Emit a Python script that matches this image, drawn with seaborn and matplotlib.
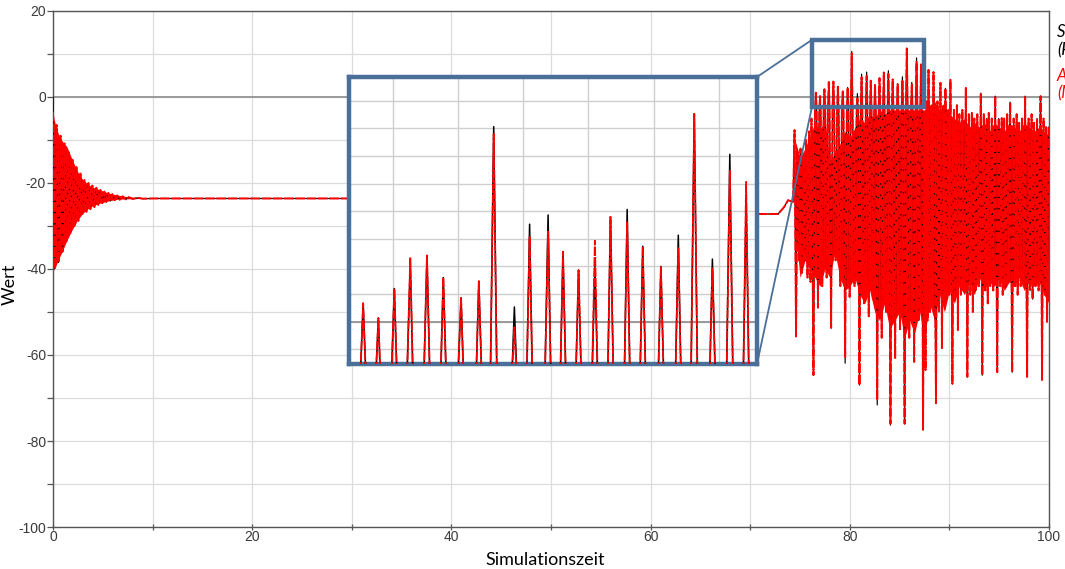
import numpy as np
import pandas as pd
import matplotlib
matplotlib.use("Agg")
import matplotlib.pyplot as plt
from matplotlib.patches import Rectangle, ConnectionPatch
from matplotlib.ticker import MultipleLocator
import seaborn as sns

# --- Einschwingvorgang: abwechselnde Maxima / Minima ---
t_decay = [0.0, 0.15, 0.35, 0.55, 0.75, 0.95, 1.15, 1.35, 1.55, 1.75, 1.95, 2.15,
           2.35, 2.55, 2.75, 2.95, 3.15, 3.35, 3.55, 3.75, 3.95, 4.15, 4.35, 4.55,
           4.75, 4.95, 5.15, 5.35, 5.55, 5.75, 5.95, 6.2, 6.45, 6.7, 7.0, 7.3, 7.6,
           8.0, 8.5, 9.0]
v_decay = [0.0, -40.0, -6.5, -38.5, -9.0, -36.0, -10.8, -33.5, -12.8, -31.5, -14.6, -30.0,
           -16.3, -28.8, -17.8, -27.2, -19.3, -26.7, -20.0, -26.1, -20.6, -25.6, -21.1, -25.1,
           -21.6, -24.7, -22.0, -24.4, -22.3, -24.2, -22.6, -24.0, -22.9, -23.9, -23.1, -23.8,
           -23.3, -23.7, -23.45, -23.65]

# Hüllkurven des Einschwingvorgangs
t_decay_env = [0.0, 0.1, 0.2, 0.4, 0.7, 1.0, 1.4, 2.0, 2.5, 3.0, 3.5, 4.0, 4.7, 5.5,
               6.4, 7.2, 8.0, 9.0]
decay_top = [-3.5, -5.0, -6.0, -7.7, -9.5, -10.5, -11.6, -15.0, -17.5, -19.3, -20.3,
             -21.0, -21.6, -22.3, -22.8, -23.1, -23.3, -23.5]
decay_bottom = [-40.0, -40.0, -39.8, -38.6, -37.0, -35.5, -33.3, -30.5, -28.5, -27.0,
                -26.0, -25.3, -24.7, -24.2, -23.8, -23.7, -23.65, -23.6]

# --- Ruhephase ---
t_rest = [10.0, 30.0, 50.0, 70.0, 72.8, 73.4, 73.8, 74.3]
v_rest = [-23.6, -23.6, -25.4, -27.2, -27.2, -25.6, -24.0, -24.4]

# --- Instabile Phase: Spitzen nach oben und unten ---
t_burst = [74.45, 74.6, 74.75, 74.9, 75.05, 75.2, 75.35, 75.5, 75.6, 75.75, 75.9, 76.05,
           76.15, 76.35,
           76.5, 76.59, 76.67, 76.8, 76.93, 77.01, 77.08, 77.23, 77.37, 77.45, 77.53, 77.67,
           77.8, 77.89, 77.97, 78.12, 78.26, 78.35, 78.43, 78.57, 78.72, 78.8, 78.88, 79.05,
           79.2, 79.29, 79.37, 79.53, 79.7, 79.78, 79.86, 79.98, 80.1, 80.19, 80.28, 80.47,
           80.68, 80.76, 80.84, 80.97, 81.1, 81.18, 81.26, 81.43, 81.6, 81.69, 81.77, 81.9,
           82.02, 82.1, 82.18, 82.31, 82.45, 82.53, 82.61, 82.75, 82.9, 82.98, 83.06, 83.2,
           83.33, 83.41, 83.49, 83.64, 83.79, 83.87, 83.95, 84.08, 84.22, 84.3, 84.38, 84.55,
           84.72, 84.8, 84.88, 85.04, 85.2, 85.28, 85.36, 85.5, 85.63, 85.72, 85.81, 85.97,
           86.14, 86.22, 86.3, 86.46, 86.61, 86.7, 86.79, 86.92, 87.07, 87.15, 87.23, 87.35,
           87.5, 87.6, 87.7, 87.8, 87.9, 88.05, 88.2, 88.3, 88.4, 88.65, 88.8, 88.95,
           89.1, 89.25, 89.4, 89.5, 89.6, 89.75, 89.9, 90.0, 90.1, 90.3, 90.45, 90.6,
           90.75, 90.85, 91.0, 91.15, 91.3, 91.45, 91.65, 91.8, 91.95, 92.1, 92.25, 92.35,
           92.5, 92.65, 92.8, 92.95, 93.15, 93.3, 93.45, 93.6, 93.75, 93.85, 93.95, 94.1,
           94.25, 94.4, 94.6, 94.8, 94.95, 95.1, 95.25, 95.35, 95.5, 95.65, 95.8, 95.95,
           96.1, 96.3, 96.45, 96.6, 96.75, 96.85, 97.0, 97.15, 97.3, 97.45, 97.6, 97.8,
           97.95, 98.1, 98.25, 98.35, 98.5, 98.65, 98.8, 98.95, 99.15, 99.3, 99.45, 99.6,
           99.7, 99.8, 99.95]
v_burst = [-7.7, -55.7, -14.0, -38.0, -12.0, -40.9, -14.0, -38.0, -10.0, -42.0, -8.0, -43.0,
           -5.0, -64.7,
           -3.6, 1.0, -3.2, -49.0, -3.4, 0.2, -3.8, -44.0, -3.0, 1.8, -3.5, -42.0,
           -2.9, 3.2, -3.6, -53.7, -3.3, 3.6, -3.1, -38.0, -3.5, 2.4, -3.0, -44.0,
           -3.2, 1.3, -3.7, -61.9, -3.4, 2.2, -3.1, -46.5, -2.8, 10.6, -3.3, -44.0,
           -3.5, 0.8, -3.6, -67.0, -3.0, 5.3, -3.4, -48.0, -3.2, 5.8, -3.5, -51.0,
           -3.6, 3.8, -3.1, -47.0, -3.3, 2.8, -3.5, -71.6, -3.1, 3.0, -3.4, -56.0,
           -3.6, 5.7, -3.0, -50.0, -3.2, 6.1, -3.5, -76.3, -3.4, 4.1, -3.1, -60.7,
           -3.5, 3.0, -3.2, -54.0, -3.0, 4.7, -3.6, -76.0, -2.9, 11.3, -3.3, -56.0,
           -3.4, 3.4, -3.1, -61.6, -3.0, 9.1, -3.5, -52.0, -3.2, 6.7, -3.4, -77.4,
           -4.0, -63.5, -1.0, -52.0, 6.3, -50.0, -2.0, -48.0, 5.8, -71.2, -1.0, -50.0,
           3.3, -58.4, -2.0, -48.0, 2.0, -47.0, -3.0, -46.0, 4.0, -66.7, -3.0, -46.0,
           -1.9, -54.2, -4.0, -46.0, -3.0, -45.0, 2.1, -65.1, -4.0, -46.0, -3.7, -50.0,
           -5.0, -45.0, -4.0, -44.0, 0.9, -64.7, -4.0, -45.0, -5.0, -48.0, -3.7, -44.0,
           -5.0, -45.0, 0.2, -64.0, -5.0, -44.0, -4.9, -46.0, -5.0, -44.0, -4.0, -43.0,
           -1.2, -64.0, -5.0, -44.0, -4.0, -46.0, -6.0, -44.0, -5.0, -44.0, 0.2, -65.1,
           -5.0, -45.0, -4.0, -47.0, -6.0, -44.0, -5.0, -45.0, 0.2, -65.8, -5.0, -46.0,
           -7.0, -52.3, -7.0]

# Stellen, an denen die rote Kurve von der schwarzen abweicht
red_departures = {0.0: -3.5, 77.89: 3.5, 79.53: -60.5, 80.19: 10.2, 80.76: -0.3,
                  81.18: 4.6, 81.69: 4.9, 82.75: -70.5, 82.98: 4.4, 83.87: 5.4,
                  84.08: -76.0, 85.28: 4.0, 86.22: 2.9, 86.7: 8.2, 87.15: 7.6}

# Dichter Kern der instabilen Phase (Hüllkurven)
t_core = [74.5, 75.0, 75.5, 76.0, 76.5, 77.0, 77.5, 78.0, 78.5, 79.0, 79.5, 80.0, 80.5,
          81.0, 81.5, 82.0, 82.5, 83.0, 83.5, 84.0, 84.5, 85.0, 85.5, 86.0, 86.5, 87.0,
          87.5, 88.0, 88.5, 89.0, 89.5, 90.0, 90.5, 91.0, 91.5, 92.0, 92.5, 93.0, 93.5,
          94.0, 94.5, 95.0, 95.5, 96.0, 96.5, 97.0, 97.5, 98.0, 98.5, 99.0, 99.5, 100.0]
core_upper = [-10, -14, -12, -9, -6, -8, -5, -15, -13, -11, -8, -10, -7,
              -5, -6, -4, -5, -3, -4, -3, -3, -3, -3, -3, -3, -3,
              -3, -2, -1, -3, -2, -4, -5, -6, -5, -7, -6, -7, -6,
              -8, -6, -7, -8, -6, -7, -8, -6, -7, -8, -7, -8, -9]
core_lower = [-30, -42, -38, -40, -42, -44, -40, -42, -36, -42, -45, -44, -42,
              -46, -48, -45, -50, -52, -48, -54, -52, -50, -56, -52, -55, -50,
              -56, -48, -52, -46, -50, -45, -48, -44, -46, -43, -46, -42, -45,
              -43, -44, -42, -45, -43, -44, -42, -45, -43, -44, -43, -46, -48]

legend_labels = ["Simulation\n(Referenz)", "Approximation\n(Modell)"]

# Ausschnitt für die Vergrößerung
zoom_x = (76.2, 87.45)
zoom_y = (-2.3, 13.3)

# ---------------------------------------------------------------
t_all = t_decay + t_rest + t_burst
v_black = v_decay + v_rest + v_burst
v_red = [red_departures.get(t, v) for t, v in zip(t_all, v_black)]
df = pd.DataFrame({"t": t_all, "schwarz": v_black, "rot": v_red})

sns.set_theme(style="whitegrid")
plt.rcParams["font.family"] = ["Liberation Sans", "DejaVu Sans"]
plt.rcParams["axes.unicode_minus"] = False

RED = "#ff0000"
BLUE = "#4a6f98"
GRID = "#dcdcdc"
SPINE = "#555555"

fig = plt.figure(figsize=(10.65, 5.69), dpi=100)
fig.patch.set_facecolor("white")
ax = fig.add_axes([0.0498, 0.0738, 0.9352, 0.9069])


def draw_traces(a, lw_black=0.85, lw_red=1.4):
    a.fill_between(t_decay_env, decay_bottom, decay_top, color=RED, lw=0, zorder=2)
    a.fill_between(t_core, core_lower, core_upper, color=RED, lw=0, zorder=2)
    sns.lineplot(data=df, x="t", y="schwarz", estimator=None, sort=False,
                 color="black", lw=lw_black, ax=a, zorder=3)
    sns.lineplot(data=df, x="t", y="rot", estimator=None, sort=False,
                 color=RED, lw=lw_red, linestyle=(0, (5, 0.8)), ax=a, zorder=4)
    a.axhline(0, color="#9a9a9a", lw=1.4, zorder=1.5)


draw_traces(ax)

ax.set_xlim(0, 100)
ax.set_ylim(-100, 20)
ax.xaxis.set_major_locator(MultipleLocator(20))
ax.xaxis.set_minor_locator(MultipleLocator(10))
ax.yaxis.set_major_locator(MultipleLocator(20))
ax.yaxis.set_minor_locator(MultipleLocator(10))
ax.grid(True, which="both", color=GRID, lw=0.9)
ax.set_facecolor("white")
for s in ax.spines.values():
    s.set_color(SPINE)
    s.set_linewidth(1.0)
ax.tick_params(axis="y", which="both", direction="out", length=4, width=0.9,
               color=SPINE, labelsize=10, labelcolor="#3a3a3a", pad=1, left=True)
ax.tick_params(axis="x", which="both", direction="inout", length=4, width=0.9,
               color=SPINE, labelsize=10, labelcolor="#3a3a3a", pad=0, bottom=True)

ax.set_xlabel("Simulationszeit", fontsize=13, family=["Lato", "DejaVu Sans"], color="black")
ax.set_ylabel("Wert", fontsize=13, family=["Lato", "DejaVu Sans"], color="black")
ax.xaxis.set_label_coords(0.494, -0.048)
ax.yaxis.set_label_coords(-0.035, 0.47)

# Vergrößerter Ausschnitt
ax_in = fig.add_axes([0.3277, 0.3603, 0.3831, 0.5044])
ax_in.set_facecolor("white")
draw_traces(ax_in, lw_black=1.1, lw_red=1.3)
ax_in.set_xlim(*zoom_x)
ax_in.set_ylim(*zoom_y)
ax_in.set_xlabel("")
ax_in.set_ylabel("")
ax_in.set_axisbelow(True)
ax_in.xaxis.set_major_locator(MultipleLocator(1.8))
ax_in.yaxis.set_major_locator(MultipleLocator(1.5))
ax_in.grid(True, which="major", color="#cfcfcf", lw=1.0, linestyle="-")
ax_in.tick_params(length=0, labelbottom=False, labelleft=False)
for s in ax_in.spines.values():
    s.set_color(BLUE)
    s.set_linewidth(3.2)
ax_in.set_zorder(10)

rect = Rectangle((zoom_x[0], zoom_y[0]), zoom_x[1] - zoom_x[0], zoom_y[1] - zoom_y[0],
                 fill=False, edgecolor=BLUE, lw=3.2, zorder=20)
ax.add_patch(rect)
for yin, yz in [(1, zoom_y[1]), (0, zoom_y[0])]:
    con = ConnectionPatch(xyA=(1, yin), coordsA=ax_in.transAxes,
                          xyB=(zoom_x[0], yz), coordsB=ax.transData,
                          color=BLUE, lw=1.3, zorder=20)
    fig.add_artist(con)

# Legende am rechten Rand
for label, color, ytop in zip(legend_labels, ["black", RED], [0.957, 0.881]):
    fig.text(0.9925, ytop, label, color=color, fontsize=12, style="italic",
             family=["Lato", "DejaVu Sans"], va="top", ha="left", linespacing=1.15)

fig.savefig("out.png", dpi=100)
